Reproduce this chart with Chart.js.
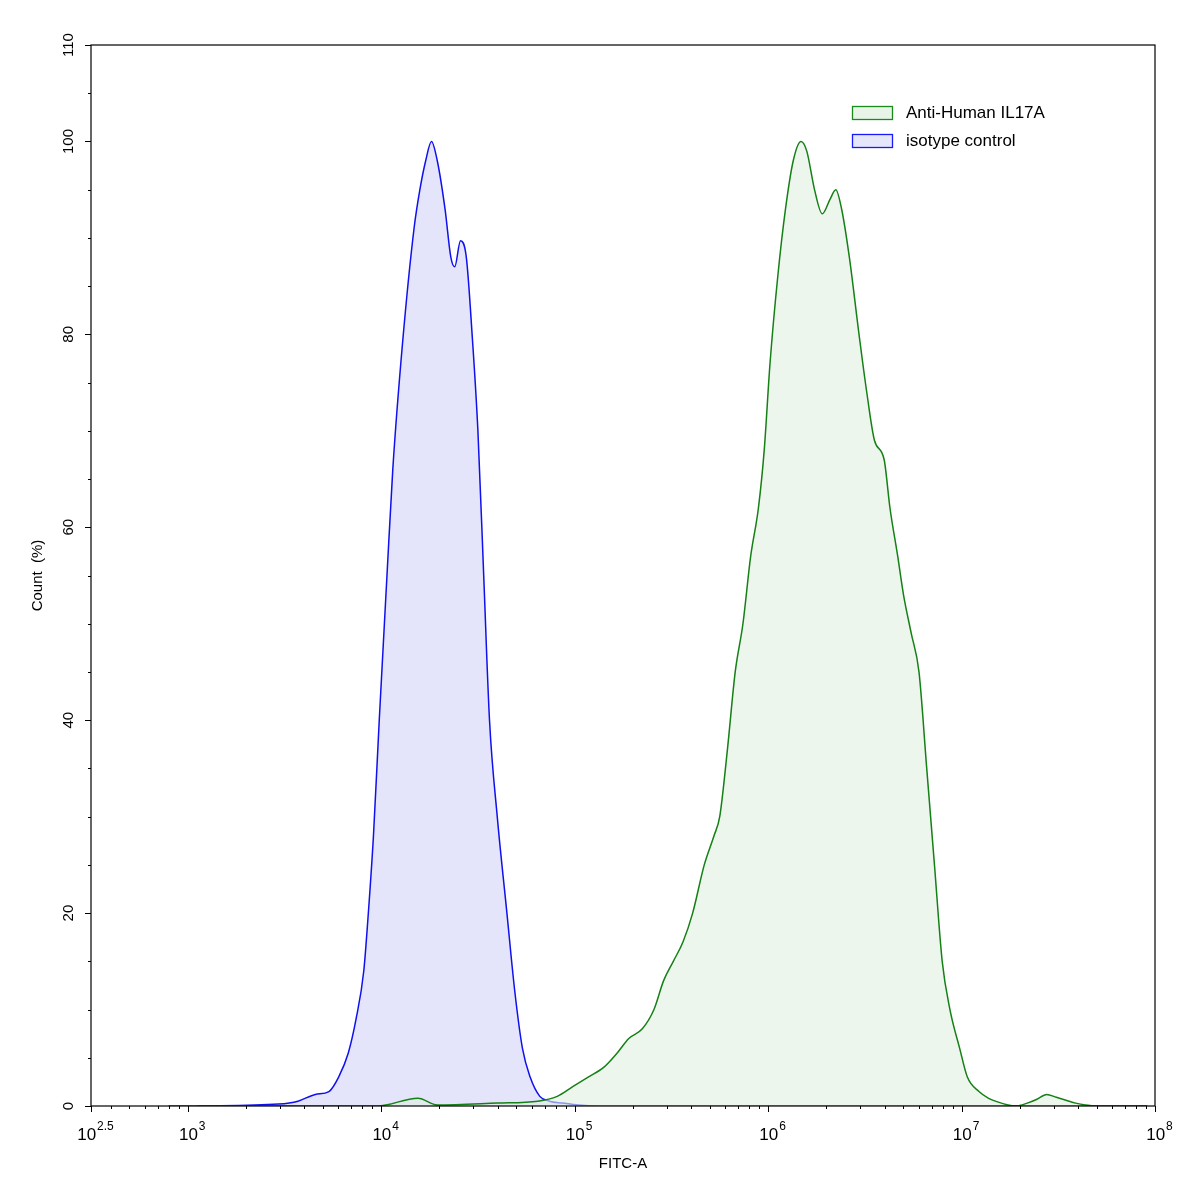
<!DOCTYPE html>
<html><head><meta charset="utf-8">
<script src="https://cdn.jsdelivr.net/npm/chart.js@4.4.0/dist/chart.umd.min.js"></script>
<style>html,body{margin:0;padding:0;background:#fff}#w{width:1197px;height:1193px}</style>
</head><body><div id="w"><canvas id="c"></canvas></div>
<script>
const seriesNames=["Anti-Human IL17A","isotype control"];
const xTickExp=["2.5","3","4","5","6","7","8"];
const xTickPos=[2.5,3,4,5,6,7,8];
const yTicks=[0,20,40,60,80,100,110];
const blueX=[3.05,3.47,3.57,3.66,3.73,3.78,3.83,3.87,3.91,3.93,3.96,3.99,4.03,4.06,4.11,4.17,4.20,4.23,4.26,4.29,4.33,4.36,4.38,4.41,4.44,4.47,4.50,4.53,4.56,4.60,4.65,4.69,4.73,4.77,4.82,4.87,4.94,5.02,5.12,6.8,7.96];
const blueY=[0,0.2,0.5,1.2,1.5,3,5.5,9,14,19,28,40,55,66,79,91,95,98,100,98,93,88,87,89.7,88,80,70,55,40,30,20,12,6,3,1,0.5,0.3,0.1,0,0,0];
const greenX=[2.9,3.98,4.19,4.29,4.60,4.81,4.91,4.99,5.07,5.15,5.22,5.28,5.35,5.41,5.46,5.51,5.56,5.61,5.67,5.72,5.75,5.79,5.83,5.87,5.91,5.95,5.98,6.01,6.05,6.09,6.13,6.17,6.20,6.24,6.28,6.32,6.35,6.38,6.42,6.47,6.51,6.55,6.60,6.63,6.67,6.70,6.74,6.78,6.82,6.86,6.90,6.94,6.99,7.03,7.09,7.14,7.19,7.24,7.28,7.34,7.39,7.44,7.49,7.54,7.59,7.64,7.69];
const greenY=[0,0,0.8,0.1,0.3,0.5,1,2,3,4,5.5,7,8,10,13,15,17,20,25,28,30,37,45,50,57,62,68,77,86,93,98,100,99,95,92.5,94,95,93,88,80,74,69,67,62,57,53,49,45,35,25,15,10,6,3,1.5,0.8,0.4,0.1,0,0.3,0.7,1.2,0.9,0.6,0.3,0.1,0];
const pts=(xs,ys)=>xs.map((x,i)=>({x,y:ys[i]}));
const font='"Liberation Sans", Arial, sans-serif';
const deco={id:'deco',afterDraw(ch){
 const c=ch.ctx,a=ch.chartArea,xs=ch.scales.x,ys=ch.scales.y;
 c.save();c.strokeStyle='#000';c.lineWidth=1.2;
 c.strokeRect(a.left,a.top,a.right-a.left,a.bottom-a.top);
 c.fillStyle='#000';c.lineWidth=1;
 for(let v=0;v<=110;v+=5){const y=Math.round(ys.getPixelForValue(v))+0.5;const L=(v%20===0||v===110)?6:3;c.beginPath();c.moveTo(a.left-L,y);c.lineTo(a.left,y);c.stroke();}
 c.font='15px '+font;c.textAlign='center';c.textBaseline='middle';
 yTicks.forEach(v=>{const y=ys.getPixelForValue(v);c.save();c.translate(a.left-22,y);c.rotate(-Math.PI/2);c.fillText(String(v),0,0);c.restore();});
 for(let d=2;d<8;d++){for(let m=1;m<10;m++){const v=d+Math.log10(m);if(v<2.5||v>8)continue;const x=Math.round(xs.getPixelForValue(v))+0.5;const L=m===1?6:3;c.beginPath();c.moveTo(x,a.bottom);c.lineTo(x,a.bottom+L);c.stroke();}}
 [2.5,8].forEach(v=>{const x=Math.round(xs.getPixelForValue(v))+0.5;c.beginPath();c.moveTo(x,a.bottom);c.lineTo(x,a.bottom+6);c.stroke();});
 xTickPos.forEach((v,i)=>{const x=xs.getPixelForValue(v);c.font='17px '+font;const w1=c.measureText('10').width;c.font='12px '+font;const w2=c.measureText(xTickExp[i]).width;const s=x-(w1+w2)/2+4;c.textAlign='left';c.textBaseline='alphabetic';c.font='17px '+font;c.fillText('10',s,a.bottom+34);c.font='12px '+font;c.fillText(xTickExp[i],s+w1+1,a.bottom+24);});
 c.font='15px '+font;c.textAlign='center';c.textBaseline='middle';
 c.fillText('FITC-A',(a.left+a.right)/2,1164);
 c.save();c.translate(38,(a.top+a.bottom)/2);c.rotate(-Math.PI/2);c.fillText('Count  (%)',0,0);c.restore();
 const cols=[['#e8f4e8','#1a8a1a'],['#e6e6fb','#1a1aff']];
 c.font='17px '+font;c.textAlign='left';
 seriesNames.forEach((n,i)=>{const y=106+i*28;c.fillStyle=cols[i][0];c.fillRect(852.5,y+0.5,40,13);c.strokeStyle=cols[i][1];c.lineWidth=1.3;c.strokeRect(852.5,y+0.5,40,13);c.fillStyle='#000';c.fillText(n,906,y+7);});
 c.restore();}};
new Chart(document.getElementById('c'),{type:'line',
 data:{datasets:[
  {label:seriesNames[0],data:pts(greenX,greenY),borderColor:'#158015',backgroundColor:'rgba(225,240,225,0.6)',fill:'origin',borderWidth:1.5,pointRadius:0,tension:0.35,cubicInterpolationMode:'monotone'},
  {label:seriesNames[1],data:pts(blueX,blueY),borderColor:'#1010ee',backgroundColor:'rgba(225,225,250,0.9)',fill:'origin',borderWidth:1.5,pointRadius:0,tension:0.35,cubicInterpolationMode:'monotone'}]},
 options:{responsive:true,maintainAspectRatio:false,animation:false,
  layout:{padding:{left:91,right:42,top:45,bottom:87}},
  plugins:{legend:{display:false},tooltip:{enabled:false}},
  scales:{x:{type:'linear',min:2.5,max:8,display:false},y:{min:0,max:110,display:false}}},
 plugins:[deco]});
</script></body></html>
